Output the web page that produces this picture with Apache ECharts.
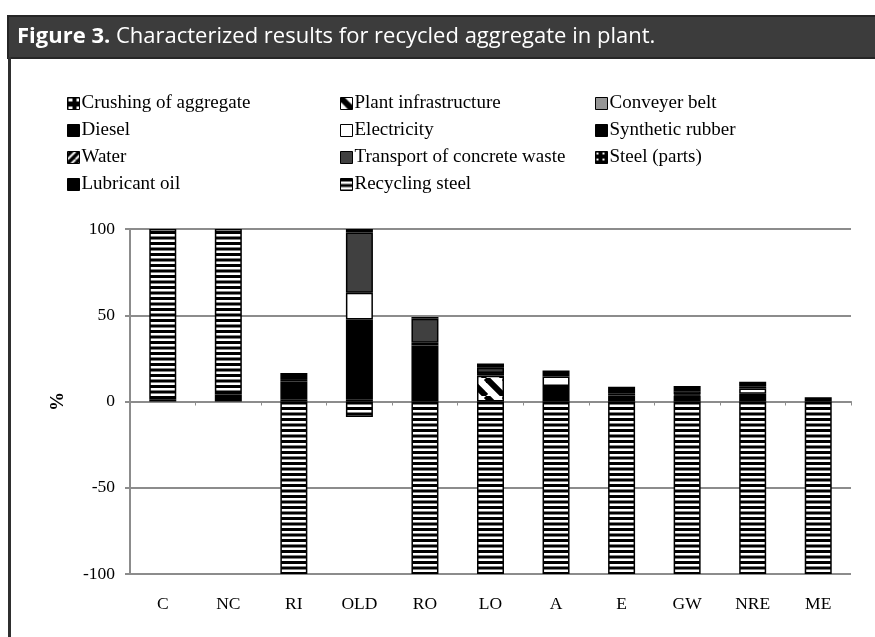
<!DOCTYPE html>
<html><head><meta charset="utf-8">
<script src="https://cdn.jsdelivr.net/npm/echarts@6/dist/echarts.min.js"></script>
<style>html,body{margin:0;padding:0;background:#fff}#chart{width:875px;height:637px}</style>
</head><body><div id="chart"></div>
<script>
const categories = ['C','NC','RI','OLD','RO','LO','A','E','GW','NRE','ME'];
const crushingOfAggregate      = [0, 0, 0,    0,    0,    0,   0,   0,   0,   0,   0];
const plantInfrastructure      = [0, 0, 0,    0,    0,    15,  0,   0,   0,   0,   0];
const conveyerBelt             = [0, 0, 1,    1,    0,    0,   0,   0,   0,   0,   0];
const diesel                   = [0, 4, 10.5, 46.5, 32.5, 1.5, 9,   3.5, 3.5, 4.5, 0];
const electricity              = [1, 0, 1.5,  15.5, 1.5,  0,   5.5, 1,   0.5, 3,   0];
const syntheticRubber          = [0, 0, 0,    0,    0,    0,   0,   0,   0,   0,   0];
const water                    = [0, 0, 0,    0,    0,    0,   0,   0,   0,   0,   0];
const transportOfConcreteWaste = [0, 0, 0,    35,   14,   3,   0,   0,   2,   1,   0];
const steelParts               = [0, 0, 0,    0,    0,    0,   0,   0,   0,   0,   0];
const lubricantOil             = [0, 0, 3.5,  2,    1,    2.5, 3.5, 4,   3,   3,   2.5];
const recyclingSteel           = [99, 96, -100, -9, -100, -100, -100, -100, -100, -100, -100];
const yTickLabels = ['-100','-50','0','50','100'];

function pat(w, h, bg, draw) {
  const c = document.createElement('canvas');
  c.width = w; c.height = h;
  const g = c.getContext('2d');
  g.fillStyle = bg; g.fillRect(0, 0, w, h);
  draw(g);
  return { image: c, repeat: 'repeat' };
}
const hStripes = pat(4, 11, '#fff', g => { g.fillStyle = '#000'; g.fillRect(0, 0, 4, 3); g.fillRect(0, 5.5, 4, 3); });
const diagDown = pat(18, 18, '#fff', g => {
  g.strokeStyle = '#000'; g.lineWidth = 6;
  [-18, 0, 18].forEach(o => { g.beginPath(); g.moveTo(o, 0); g.lineTo(o + 18, 18); g.stroke(); });
});
const diagUp = pat(8, 8, '#000', g => {
  g.strokeStyle = '#fff'; g.lineWidth = 2;
  [-8, 0, 8].forEach(o => { g.beginPath(); g.moveTo(o, 8); g.lineTo(o + 8, 0); g.stroke(); });
});
const blocks = pat(8, 8, '#000', g => { g.fillStyle = '#fff'; g.fillRect(1, 1, 4, 3); });
const dots = pat(6, 6, '#000', g => { g.fillStyle = '#fff'; g.fillRect(1, 1, 2, 2); });

const seriesDefs = [
  ['Crushing of aggregate', crushingOfAggregate, blocks],
  ['Plant infrastructure', plantInfrastructure, diagDown],
  ['Conveyer belt', conveyerBelt, '#969696'],
  ['Diesel', diesel, '#000'],
  ['Electricity', electricity, '#fff'],
  ['Synthetic rubber', syntheticRubber, '#000'],
  ['Water', water, diagUp],
  ['Transport of concrete waste', transportOfConcreteWaste, '#404040'],
  ['Steel (parts)', steelParts, dots],
  ['Lubricant oil', lubricantOil, '#000'],
  ['Recycling steel', recyclingSteel, hStripes]
];

const serif = 'Liberation Serif';
const legendBase = {
  orient: 'vertical', icon: 'rect', itemWidth: 12, itemHeight: 12, itemGap: 8,
  selectedMode: false, top: 89,
  itemStyle: { borderColor: '#000', borderWidth: 1 },
  textStyle: { fontFamily: serif, fontSize: 19, color: '#000', lineHeight: 19, padding: [0, 0, 0, -3] }
};
const names = seriesDefs.map(d => d[0]);

const chart = echarts.init(document.getElementById('chart'));
chart.setOption({
  animation: false,
  backgroundColor: '#fff',
  graphic: [
    { type: 'rect', shape: { x: 8, y: 16, width: 880, height: 42 }, style: { fill: '#3c3c3c', stroke: '#262626', lineWidth: 2 } },
    { type: 'rect', shape: { x: 8, y: 57, width: 3, height: 590 }, style: { fill: '#2f2f2f' } },
    { type: 'text', x: 17, y: 37, style: {
        text: '{b|Figure 3.} Characterized results for recycled aggregate in plant.',
        fill: '#fff', fontFamily: 'Open Sans', fontSize: 22, verticalAlign: 'middle',
        rich: { b: { fontWeight: 'bold', fill: '#fff', fontFamily: 'Open Sans', fontSize: 22 } } } }
  ],
  legend: [
    Object.assign({}, legendBase, { left: 62, data: [names[0], names[3], names[6], names[9]] }),
    Object.assign({}, legendBase, { left: 335, data: [names[1], names[4], names[7], names[10]] }),
    Object.assign({}, legendBase, { left: 590, data: [names[2], names[5], names[8]] })
  ],
  grid: { left: 130, right: 24, top: 229, bottom: 63 },
  xAxis: [
    { type: 'category', data: categories, position: 'bottom',
      axisLine: { show: false, onZero: false }, axisTick: { show: false },
      axisLabel: { fontFamily: serif, fontSize: 17.5, color: '#000', margin: 21 } },
    { type: 'category', data: categories, position: 'bottom',
      axisLine: { show: true, onZero: true, lineStyle: { color: '#8c8c8c', width: 2 } },
      axisTick: { show: true, length: 4, lineStyle: { color: '#8c8c8c', width: 1 } },
      axisLabel: { show: false } }
  ],
  yAxis: {
    type: 'value', min: -100, max: 100, interval: 50,
    name: '%', nameLocation: 'middle', nameRotate: 90, nameGap: 62,
    nameTextStyle: { fontFamily: serif, fontSize: 19, fontWeight: 'bold', color: '#000' },
    axisLine: { show: true, lineStyle: { color: '#8c8c8c', width: 2 } },
    axisTick: { show: true, length: 5, lineStyle: { color: '#8c8c8c', width: 2 } },
    splitLine: { lineStyle: { color: '#8c8c8c', width: 2 } },
    axisLabel: { fontFamily: serif, fontSize: 17.5, color: '#000', margin: 15,
      formatter: v => yTickLabels[yTickLabels.indexOf(String(v))] }
  },
  series: seriesDefs.map(([name, vals, color]) => ({
    name, type: 'bar', stack: 'total', barWidth: 27, xAxisIndex: 0,
    itemStyle: { color, borderColor: '#000', borderWidth: 1.5 },
    data: vals.map(v => v === 0 ? '-' : v)
  }))
});
</script></body></html>
